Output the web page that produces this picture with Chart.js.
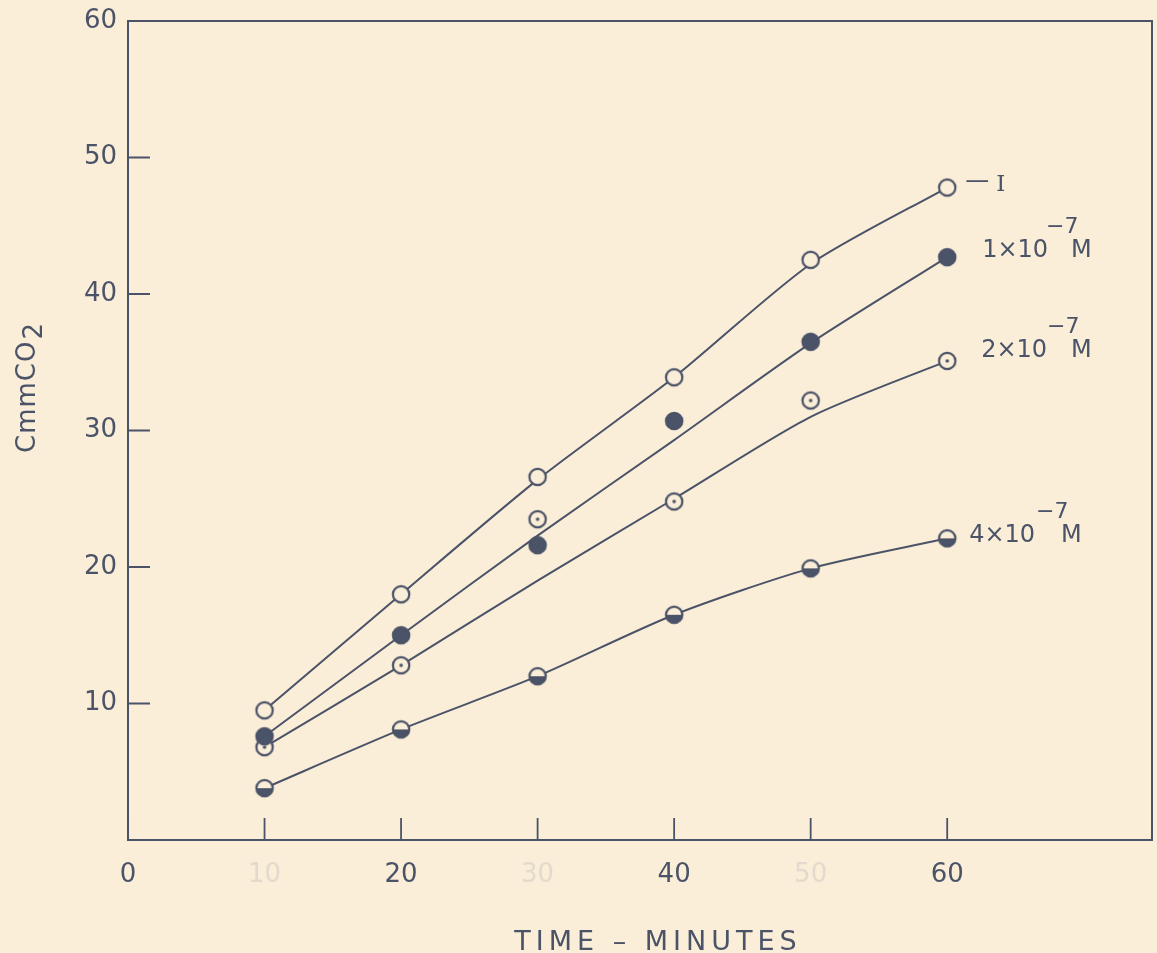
<!DOCTYPE html>
<html>
<head>
    <title>CmmCO2 vs time</title>
    <script src="https://cdn.jsdelivr.net/npm/chart.js"></script>
    <style>
        html, body {
            margin: 0;
            padding: 0;
            background: #fbeed8;
        }
        .chart-container {
            width: 1157px;
            height: 953px;
        }
    </style>
</head>
<body>
    <div class="chart-container">
        <canvas id="co2Chart"></canvas>
    </div>
    <script>
        // data
        const times = [10, 20, 30, 40, 50, 60];
        const xTicks = [0, 10, 20, 30, 40, 50, 60];
        const yTicks = [10, 20, 30, 40, 50, 60];

        // measured points
        const controlPts = [9.5, 18.0, 26.6, 33.9, 42.5, 47.8];
        const dose1Pts = [7.6, 15.0, 21.6, 30.7, 36.5, 42.7];
        const dose2Pts = [6.8, 12.8, 23.5, 24.8, 32.2, 35.1];
        const dose4Pts = [3.8, 8.1, 12.0, 16.5, 19.9, 22.1];

        // the hand-drawn curves, read at the same times
        const controlCurve = [9.5, 18.0, 26.4, 33.9, 42.2, 47.8];
        const dose1Curve = [7.6, 15.0, 22.3, 29.3, 36.4, 42.7];
        const dose2Curve = [6.8, 12.8, 19.0, 25.0, 31.0, 35.1];
        const dose4Curve = [3.8, 8.1, 12.0, 16.5, 19.9, 22.1];

        const seriesNames = ['— I', '1×10', '2×10', '4×10'];

        const paper = '#fbeed8';
        const ink = '#4b5368';
        const faintInk = '#e1dacd';

        function toXY(ys) {
            return ys.map((y, i) => ({ x: times[i], y: y }));
        }

        // little marker images: open, filled, dotted, half-filled
        function makeMarker(kind) {
            const c = document.createElement('canvas');
            c.width = 24;
            c.height = 24;
            const g = c.getContext('2d');
            const r = 8.2;
            g.lineWidth = 2.2;
            g.strokeStyle = ink;
            g.beginPath();
            g.arc(12, 12, r, 0, Math.PI * 2);
            g.fillStyle = kind === 'filled' ? ink : paper;
            g.fill();
            if (kind === 'half') {
                g.beginPath();
                g.arc(12, 12, r, 0, Math.PI);
                g.fillStyle = ink;
                g.fill();
            }
            g.beginPath();
            g.arc(12, 12, r, 0, Math.PI * 2);
            g.stroke();
            if (kind === 'dotted') {
                g.beginPath();
                g.arc(12, 12, 1.8, 0, Math.PI * 2);
                g.fillStyle = ink;
                g.fill();
            }
            return c;
        }

        function curve(data) {
            return {
                type: 'line',
                data: toXY(data),
                borderColor: ink,
                borderWidth: 2,
                pointRadius: 0,
                tension: 0.25,
                showLine: true,
                order: 2
            };
        }

        function points(data, kind) {
            return {
                type: 'scatter',
                data: toXY(data),
                pointStyle: makeMarker(kind),
                showLine: false,
                order: 1
            };
        }

        // paper colour
        const paperPlugin = {
            id: 'paper',
            beforeDraw(chart) {
                const ctx = chart.ctx;
                ctx.save();
                ctx.fillStyle = paper;
                ctx.fillRect(0, 0, chart.width, chart.height);
                ctx.restore();
            }
        };

        // box and inward ticks
        const framePlugin = {
            id: 'frame',
            beforeDatasetsDraw(chart) {
                const ctx = chart.ctx;
                const a = chart.chartArea;
                const xs = chart.scales.x;
                const ys = chart.scales.y;
                ctx.save();
                ctx.strokeStyle = ink;
                ctx.lineWidth = 2;
                ctx.strokeRect(a.left, a.top, a.right - a.left, a.bottom - a.top);
                ctx.beginPath();
                xs.ticks.forEach(t => {
                    const px = xs.getPixelForValue(t.value);
                    ctx.moveTo(px, a.bottom);
                    ctx.lineTo(px, a.bottom - 22);
                });
                ys.ticks.forEach(t => {
                    const py = ys.getPixelForValue(t.value);
                    ctx.moveTo(a.left, py);
                    ctx.lineTo(a.left + 22, py);
                });
                ctx.lineWidth = 1.8;
                ctx.stroke();
                ctx.restore();
            }
        };

        // axis titles and curve labels
        const textPlugin = {
            id: 'texts',
            afterDraw(chart) {
                const ctx = chart.ctx;
                ctx.save();
                ctx.fillStyle = ink;
                ctx.textBaseline = 'alphabetic';

                // x title
                ctx.font = '27px "DejaVu Sans"';
                ctx.letterSpacing = '5px';
                ctx.textAlign = 'center';
                ctx.fillText('TIME – MINUTES', 658, 950);

                // y title, rotated
                ctx.save();
                ctx.translate(35, 453);
                ctx.rotate(-Math.PI / 2);
                ctx.letterSpacing = '1px';
                ctx.textAlign = 'left';
                ctx.font = '26px "DejaVu Sans"';
                ctx.fillText('CmmCO', 0, 0);
                const w = ctx.measureText('CmmCO').width;
                ctx.fillText('2', w + 1, 7);
                ctx.restore();

                // curve labels, placed from the last point of each curve
                ctx.letterSpacing = '0px';
                ctx.textAlign = 'left';
                const last = i => {
                    const meta = chart.getDatasetMeta(i);
                    return meta.data[meta.data.length - 1];
                };
                const p0 = last(0);
                const [dash, roman] = seriesNames[0].split(' ');
                ctx.font = '24px "DejaVu Sans"';
                ctx.fillText(dash, p0.x + 18, p0.y);
                ctx.font = '23px "DejaVu Serif"';
                ctx.fillText(roman, p0.x + 49, p0.y + 3);

                const withPower = (i, dx, dy, expDx, gap) => {
                    const p = last(i);
                    const x = p.x + dx;
                    const y = p.y + dy;
                    ctx.font = '24px "DejaVu Sans"';
                    ctx.fillText(seriesNames[i], x, y);
                    const tw = ctx.measureText(seriesNames[i]).width;
                    ctx.font = '22px "DejaVu Sans"';
                    ctx.fillText('−7', x + tw + expDx, y - 24);
                    ctx.font = '24px "DejaVu Sans"';
                    ctx.fillText('M', x + tw + gap, y);
                };
                withPower(1, 35, 0, -2, 23);
                withPower(2, 34, -4, 0, 24);
                withPower(3, 22, 4, 1, 26);
                ctx.restore();
            }
        };

        const ctx = document.getElementById('co2Chart').getContext('2d');
        new Chart(ctx, {
            type: 'scatter',
            data: {
                datasets: [
                    curve(controlCurve),
                    curve(dose1Curve),
                    curve(dose2Curve),
                    curve(dose4Curve),
                    points(controlPts, 'open'),
                    points(dose1Pts, 'filled'),
                    points(dose2Pts, 'dotted'),
                    points(dose4Pts, 'half')
                ]
            },
            options: {
                responsive: true,
                maintainAspectRatio: false,
                animation: false,
                layout: {
                    padding: { top: 21, right: 2, left: 0, bottom: 0 }
                },
                plugins: {
                    legend: { display: false },
                    tooltip: { enabled: false }
                },
                scales: {
                    x: {
                        type: 'linear',
                        min: 0,
                        max: 75,
                        afterBuildTicks: scale => {
                            scale.ticks = xTicks.map(v => ({ value: v }));
                        },
                        afterFit: scale => {
                            scale.height = 113;
                        },
                        grid: { display: false, drawTicks: false },
                        border: { display: false },
                        ticks: {
                            padding: 20,
                            font: { family: 'DejaVu Sans', size: 26 },
                            color: c => (c.tick.value % 20 === 10 ? faintInk : ink),
                            callback: v => String(v)
                        }
                    },
                    y: {
                        type: 'linear',
                        min: 0,
                        max: 60,
                        afterBuildTicks: scale => {
                            scale.ticks = yTicks.map(v => ({ value: v }));
                        },
                        afterFit: scale => {
                            scale.width = 128;
                        },
                        grid: { display: false, drawTicks: false },
                        border: { display: false },
                        ticks: {
                            padding: 11,
                            font: { family: 'DejaVu Sans', size: 26, lineHeight: 0.3 },
                            color: ink,
                            callback: v => String(v)
                        }
                    }
                }
            },
            plugins: [paperPlugin, framePlugin, textPlugin]
        });
    </script>
</body>
</html>
